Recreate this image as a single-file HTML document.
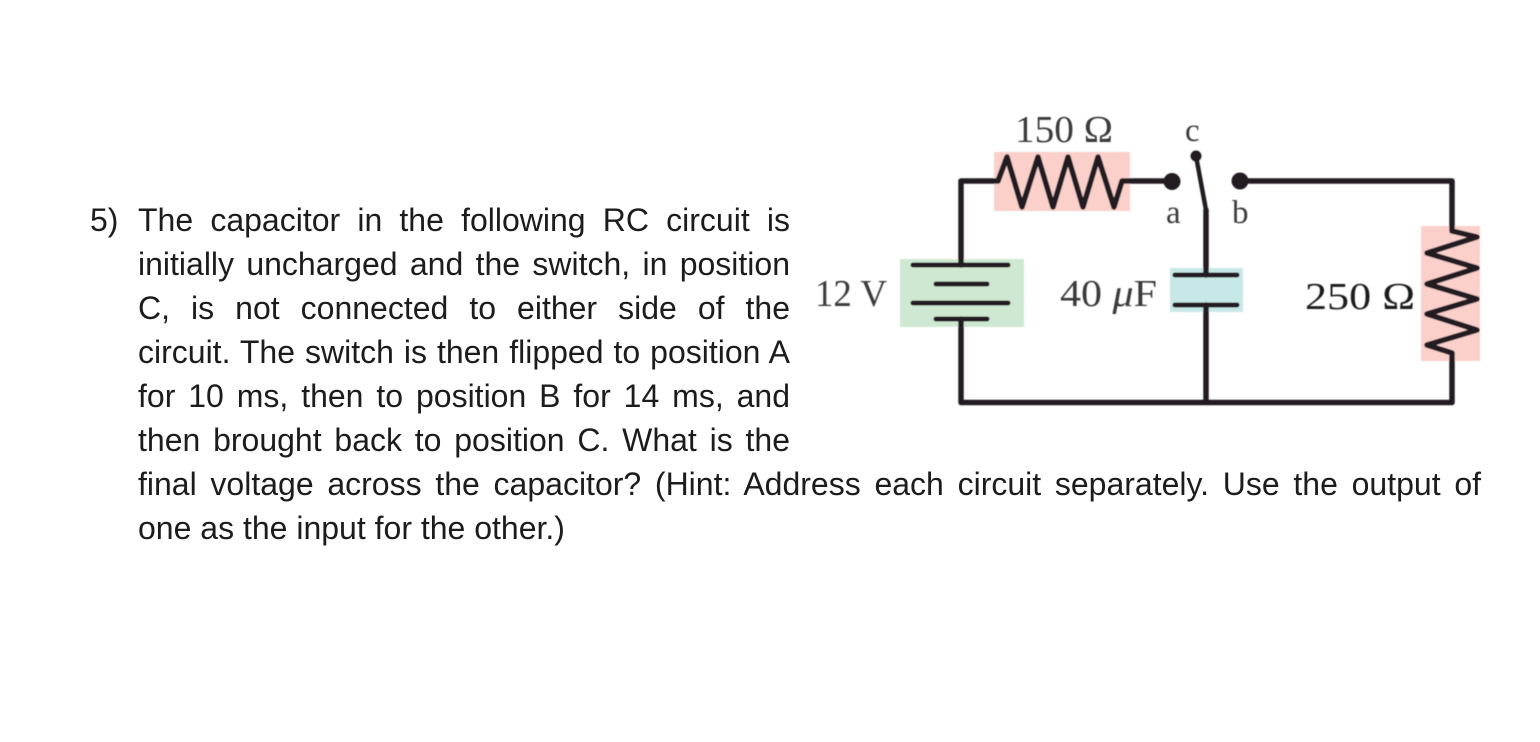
<!DOCTYPE html>
<html>
<head>
<meta charset="utf-8">
<style>
html,body{margin:0;padding:0;background:#fff;}
body{width:1540px;height:742px;position:relative;overflow:hidden;font-family:"Liberation Sans",sans-serif;}
.l{position:absolute;left:138px;width:652px;height:44px;line-height:44px;font-size:32px;color:#1c1c1c;white-space:normal;text-align:justify;text-align-last:justify;}
.w{width:1343px;}
.e{text-align-last:left;}
svg{position:absolute;left:0;top:0;}
svg text{font-family:"Liberation Serif",serif;}
</style>
</head>
<body>
<div class="l" style="left:90px;width:40px;top:198px;text-align-last:left;">5)</div>
<div class="l" style="top:198px;">The capacitor in the following RC circuit is</div>
<div class="l" style="top:242px;">initially uncharged and the switch, in position</div>
<div class="l" style="top:286px;">C, is not connected to either side of the</div>
<div class="l" style="top:330px;">circuit. The switch is then flipped to position A</div>
<div class="l" style="top:374px;">for 10 ms, then to position B for 14 ms, and</div>
<div class="l" style="top:418px;">then brought back to position C. What is the</div>
<div class="l w" style="top:462px;">final voltage across the capacitor? (Hint: Address each circuit separately. Use the output of</div>
<div class="l e" style="top:506px;width:900px;">one as the input for the other.)</div>
<svg width="1540" height="742" viewBox="0 0 1540 742">
<defs><filter id="b" x="-5%" y="-5%" width="110%" height="110%"><feGaussianBlur stdDeviation="0.6"/></filter></defs>
<g filter="url(#b)">
<rect x="994" y="152" width="136" height="59" fill="#fbd0cb"/>
<rect x="1421" y="226" width="59" height="135" fill="#fbd0cb"/>
<rect x="900" y="259" width="124" height="68" fill="#cfe8d2"/>
<rect x="1170" y="268" width="73" height="44" fill="#c6e8e6"/>
<g fill="none" stroke="#231f20" stroke-width="5.5" stroke-linejoin="round" stroke-linecap="round">
<polyline points="961,265 961,181 998,181 1007,157 1022,207 1038,157 1053,207 1068,157 1083,207 1098,157 1114,207 1122,181 1172,181"/>
<polyline points="961,319 961,402.5 1452,402.5 1452,353 1427,345 1477,330 1427,314 1477,299 1427,284 1477,268 1427,253 1477,237 1452,231 1452,181 1240,181"/>
<line x1="1206" y1="210" x2="1206" y2="275"/>
<line x1="1206" y1="305" x2="1206" y2="402"/>
<line x1="1196" y1="156" x2="1206" y2="210" stroke-width="4.5"/>
</g>
<g stroke="#231f20" stroke-linecap="round" fill="none" stroke-width="5">
<line x1="913" y1="265" x2="1008" y2="265"/>
<line x1="936" y1="284" x2="987" y2="284"/>
<line x1="913" y1="303" x2="1008" y2="303"/>
<line x1="936" y1="319" x2="987" y2="319"/>
<line x1="1175" y1="275" x2="1237" y2="275"/>
<line x1="1175" y1="305" x2="1237" y2="305"/>
</g>
<circle cx="1172" cy="181.5" r="8.5" fill="#231f20"/>
<circle cx="1240" cy="181" r="8.5" fill="#231f20"/>
<circle cx="1196" cy="156" r="5.5" fill="#231f20"/>
<g fill="#3a3a3a" font-size="38">
<text x="1015" y="142" textLength="98" lengthAdjust="spacingAndGlyphs">150 Ω</text>
<text x="1185" y="141" font-size="33">c</text>
<text x="1166" y="223" font-size="33">a</text>
<text x="1232" y="223" font-size="33">b</text>
<text x="815" y="306" textLength="72" lengthAdjust="spacingAndGlyphs">12 V</text>
<text x="1060" y="306" textLength="97" lengthAdjust="spacingAndGlyphs">40 <tspan font-style="italic">μ</tspan>F</text>
<text x="1305" y="309" fill="#1a1a1a" textLength="110" lengthAdjust="spacingAndGlyphs">250 Ω</text>
</g>
</g>
</svg>
</body>
</html>
